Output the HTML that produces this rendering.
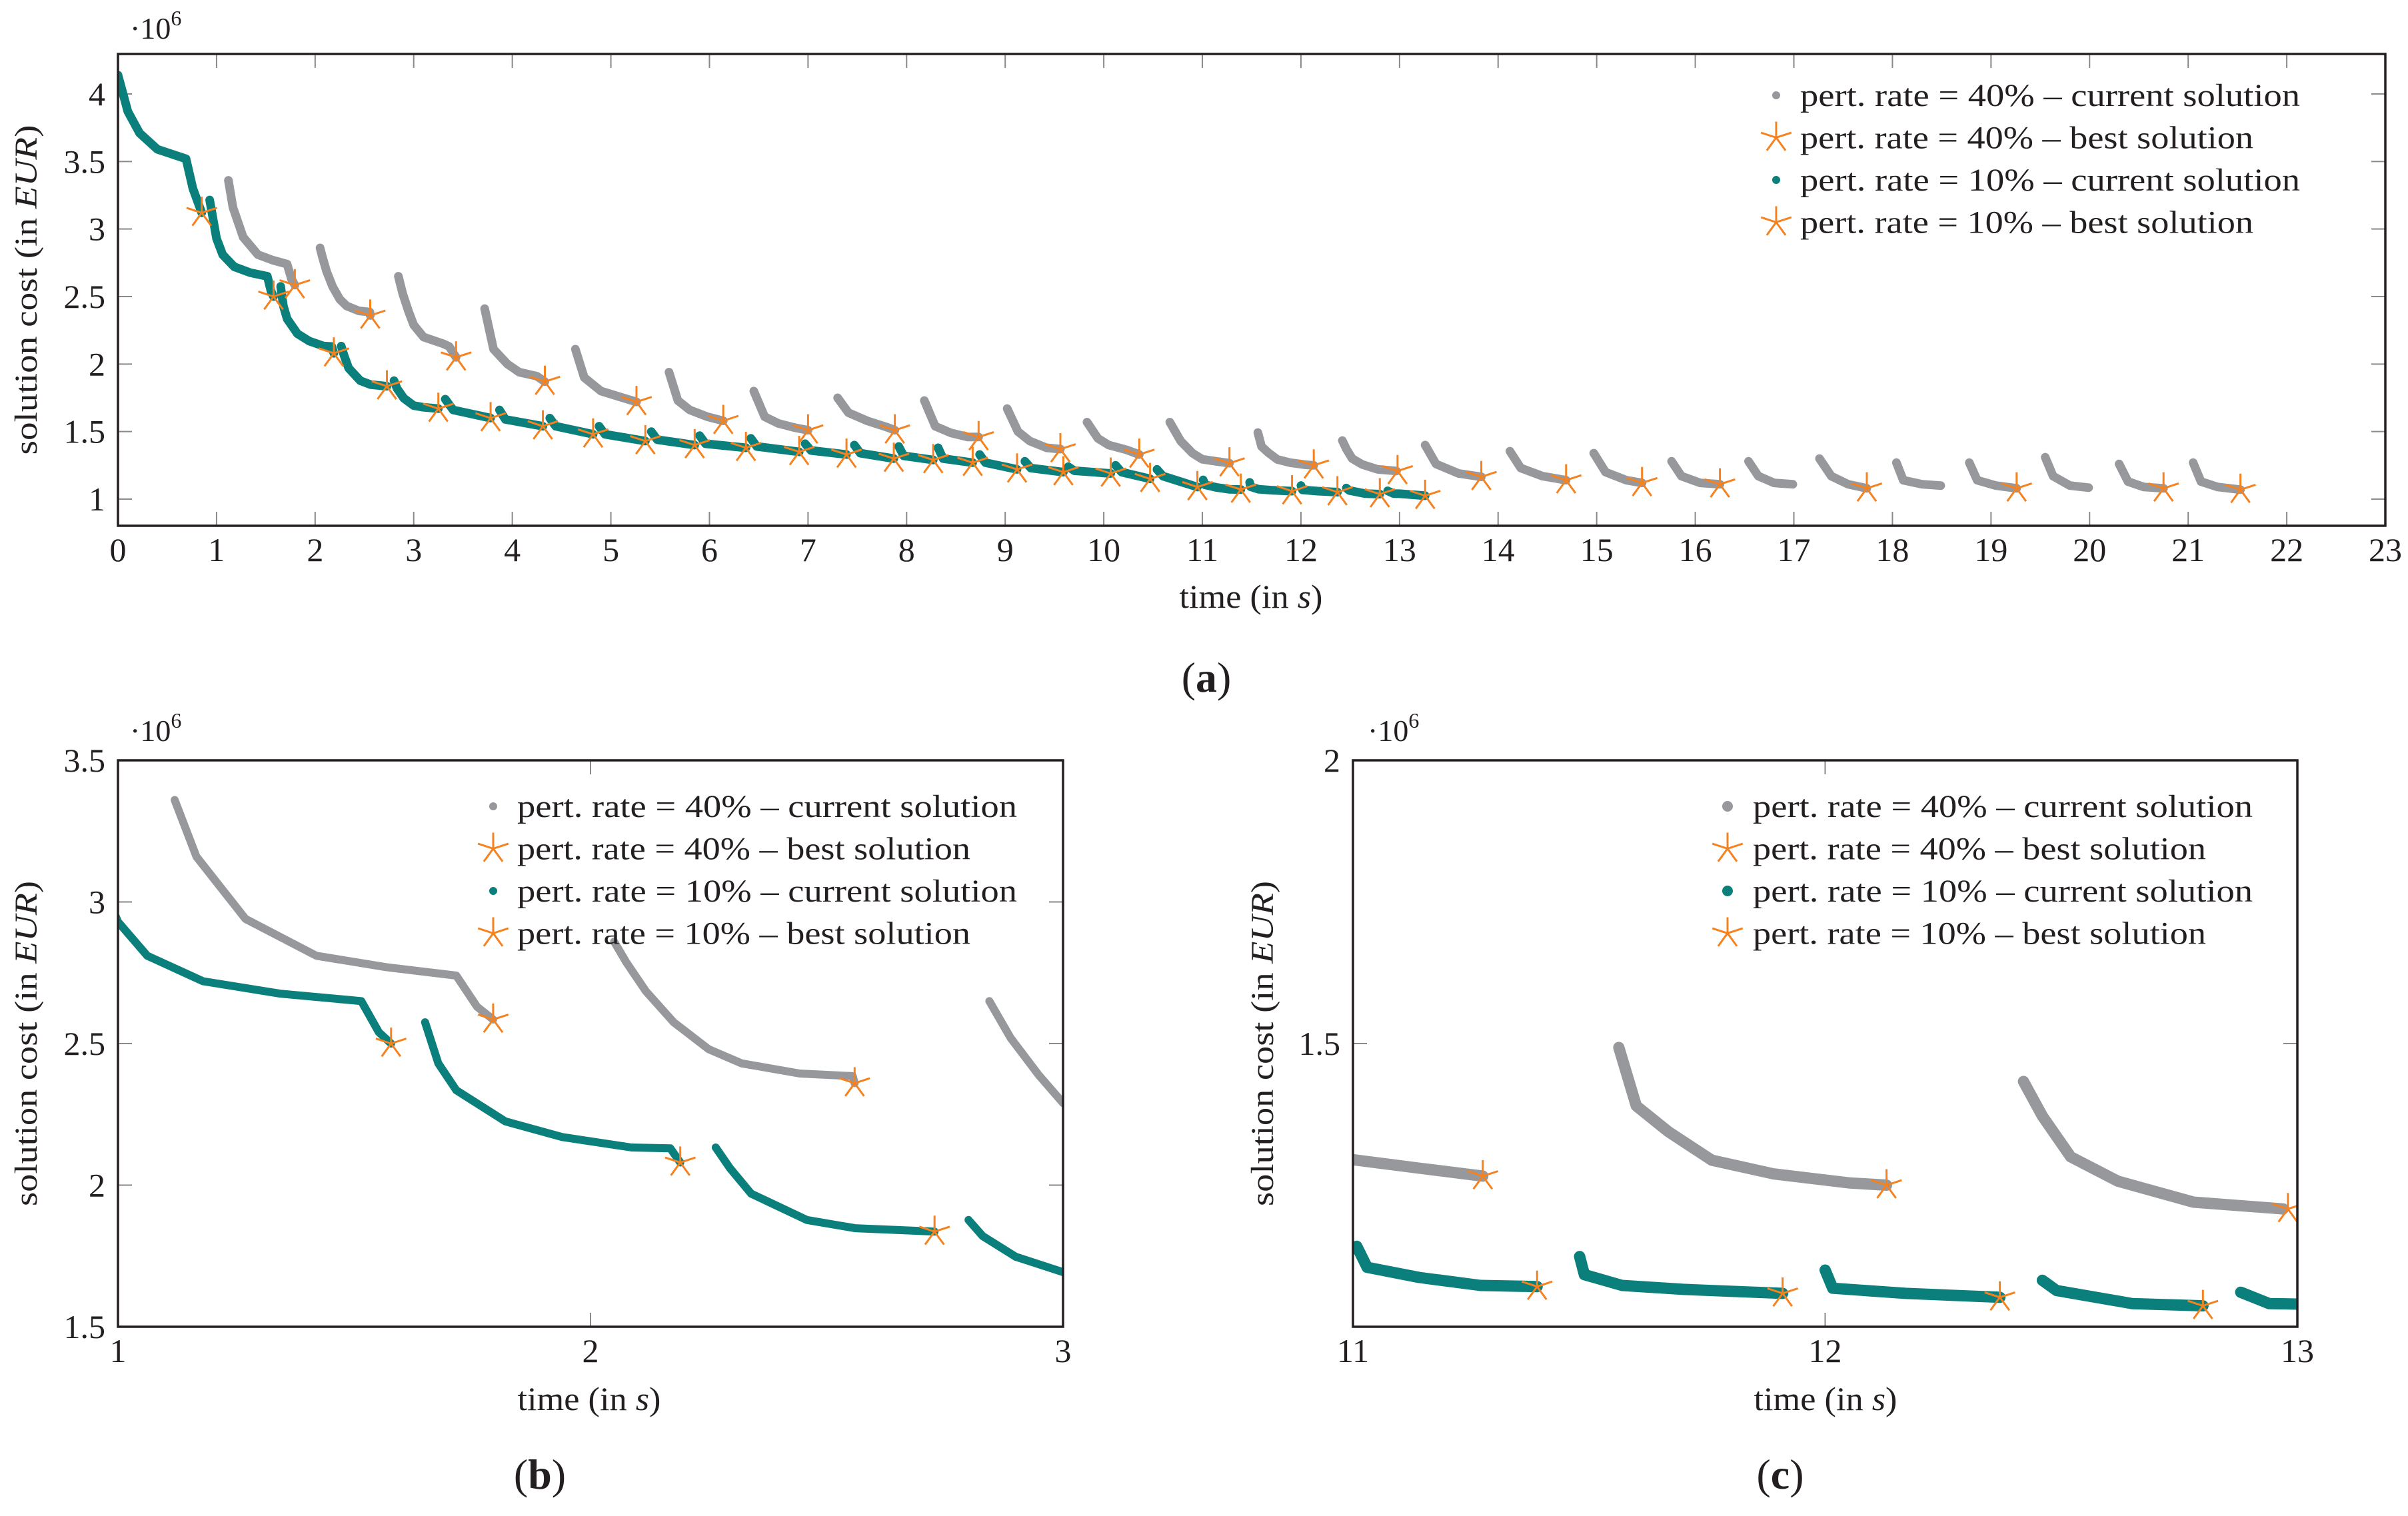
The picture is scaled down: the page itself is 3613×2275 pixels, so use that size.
<!DOCTYPE html>
<html><head><meta charset="utf-8"><style>
html,body{margin:0;padding:0;background:#fff}
svg{display:block}
text{font-family:"Liberation Serif",serif;fill:#231f20}
</style></head><body>
<svg id="fig" xmlns="http://www.w3.org/2000/svg" width="3613" height="2275" viewBox="0 0 3613 2275"></svg>
<script>
// ---- data (time in s, cost in 1e6 EUR) ----
const gray40Segments = [
 [[1.12,3.36],[1.166,3.16],[1.27,2.94],[1.42,2.81],[1.567,2.77],[1.716,2.74],[1.76,2.63],[1.794,2.585]],
 [[2.05,2.86],[2.076,2.786],[2.117,2.685],[2.176,2.575],[2.25,2.48],[2.32,2.43],[2.443,2.394],[2.555,2.385],[2.559,2.36]],
 [[2.844,2.65],[2.889,2.52],[2.948,2.39],[3.0,2.29],[3.1,2.2],[3.3,2.15],[3.36,2.13],[3.43,2.05]],
 [[3.72,2.41],[3.81,2.11],[3.95,2.0],[4.07,1.94],[4.25,1.91],[4.33,1.87]],
 [[4.64,2.11],[4.73,1.90],[4.9,1.8],[5.10,1.755],[5.26,1.72]],
 [[5.59,1.94],[5.68,1.73],[5.8,1.66],[5.98,1.61],[6.14,1.58]],
 [[6.45,1.80],[6.56,1.61],[6.7,1.56],[6.86,1.53],[7.00,1.51]],
 [[7.30,1.75],[7.41,1.64],[7.6,1.58],[7.81,1.53],[7.88,1.51]],
 [[8.18,1.73],[8.29,1.54],[8.45,1.49],[8.62,1.46],[8.73,1.46]],
 [[9.02,1.67],[9.13,1.50],[9.25,1.43],[9.42,1.38],[9.56,1.37]],
 [[9.83,1.57],[9.94,1.45],[10.05,1.40],[10.23,1.365],[10.36,1.33]],
 [[10.67,1.57],[10.78,1.43],[10.9,1.34],[11.0,1.295],[11.14,1.28],[11.275,1.266]],
 [[11.563,1.493],[11.60,1.39],[11.667,1.345],[11.76,1.294],[11.89,1.27],[12.05,1.254],[12.13,1.25]],
 [[12.42,1.433],[12.46,1.372],[12.52,1.30],[12.62,1.257],[12.78,1.22],[12.97,1.208]],
 [[13.26,1.40],[13.37,1.26],[13.6,1.19],[13.83,1.165]],
 [[14.12,1.355],[14.23,1.23],[14.45,1.17],[14.69,1.14]],
 [[14.97,1.34],[15.09,1.20],[15.3,1.14],[15.46,1.12]],
 [[15.76,1.28],[15.86,1.17],[16.05,1.12],[16.25,1.11]],
 [[16.54,1.28],[16.64,1.17],[16.8,1.12],[16.99,1.11]],
 [[17.26,1.30],[17.38,1.17],[17.55,1.11],[17.74,1.08]],
 [[18.04,1.27],[18.11,1.14],[18.3,1.11],[18.49,1.10]],
 [[18.78,1.27],[18.86,1.14],[19.05,1.10],[19.26,1.08]],
 [[19.55,1.31],[19.63,1.17],[19.8,1.10],[19.99,1.085]],
 [[20.30,1.26],[20.39,1.13],[20.55,1.09],[20.75,1.08]],
 [[21.05,1.27],[21.13,1.13],[21.3,1.09],[21.53,1.07]]
];
const teal10Segments = [
 [[0,4.14],[0.10,3.87],[0.22,3.71],[0.40,3.59],[0.69,3.52],[0.76,3.30],[0.85,3.12]],
 [[0.93,3.215],[1.0,2.93],[1.062,2.81],[1.18,2.72],[1.344,2.676],[1.515,2.65],[1.552,2.54],[1.578,2.50]],
 [[1.650,2.575],[1.678,2.43],[1.716,2.335],[1.82,2.225],[1.94,2.17],[2.087,2.133],[2.169,2.13],[2.19,2.08]],
 [[2.265,2.133],[2.295,2.06],[2.34,1.97],[2.458,1.877],[2.56,1.848],[2.728,1.836]],
 [[2.80,1.877],[2.83,1.82],[2.90,1.747],[3.0,1.693],[3.1,1.68],[3.25,1.67]],
 [[3.32,1.74],[3.40,1.66],[3.78,1.60]],
 [[3.87,1.66],[3.93,1.59],[4.31,1.54]],
 [[4.38,1.60],[4.44,1.54],[4.82,1.48]],
 [[4.88,1.54],[4.94,1.48],[5.35,1.43]],
 [[5.41,1.50],[5.47,1.44],[5.85,1.40]],
 [[5.90,1.47],[5.96,1.41],[6.37,1.38]],
 [[6.42,1.45],[6.48,1.39],[6.91,1.35]],
 [[6.97,1.41],[7.03,1.36],[7.39,1.33]],
 [[7.47,1.40],[7.53,1.34],[7.87,1.30]],
 [[7.92,1.39],[7.97,1.32],[8.27,1.29]],
 [[8.32,1.38],[8.37,1.30],[8.67,1.27]],
 [[8.74,1.33],[8.80,1.27],[9.12,1.22]],
 [[9.20,1.28],[9.26,1.23],[9.59,1.20]],
 [[9.64,1.24],[9.70,1.21],[10.07,1.19]],
 [[10.12,1.25],[10.18,1.20],[10.47,1.15]],
 [[10.54,1.22],[10.60,1.17],[10.95,1.09]],
 [[11.008,1.142],[11.03,1.105],[11.14,1.087],[11.27,1.073],[11.39,1.071]],
 [[11.48,1.124],[11.49,1.092],[11.57,1.073],[11.70,1.066],[11.91,1.059]],
 [[12.0,1.10],[12.016,1.068],[12.17,1.059],[12.37,1.052]],
 [[12.46,1.082],[12.49,1.064],[12.65,1.041],[12.80,1.037]],
 [[12.88,1.061],[12.94,1.041],[13.0,1.04],[13.26,1.025]]
];
const best40 = [[1.794,2.585],[2.559,2.36],[3.43,2.05],[4.33,1.87],[5.26,1.72],[6.14,1.58],[7.00,1.51],[7.88,1.51],[8.73,1.46],[9.56,1.37],[10.36,1.33],[11.275,1.266],[12.13,1.25],[12.98,1.208],[13.83,1.165],[14.69,1.14],[15.46,1.12],[16.25,1.11],[17.74,1.08],[19.26,1.08],[20.75,1.08],[21.53,1.07]];
const best10 = [[0.85,3.12],[1.578,2.50],[2.19,2.08],[2.728,1.836],[3.25,1.67],[3.78,1.60],[4.31,1.54],[4.82,1.48],[5.35,1.43],[5.85,1.40],[6.37,1.38],[6.91,1.35],[7.39,1.33],[7.87,1.30],[8.27,1.29],[8.67,1.27],[9.12,1.22],[9.59,1.20],[10.07,1.19],[10.47,1.15],[10.95,1.09],[11.39,1.071],[11.91,1.059],[12.37,1.052],[12.80,1.037],[13.26,1.025]];
const legendLabels = ["pert. rate = 40% \u2013 current solution","pert. rate = 40% \u2013 best solution","pert. rate = 10% \u2013 current solution","pert. rate = 10% \u2013 best solution"];
const xTicksA = [0,1,2,3,4,5,6,7,8,9,10,11,12,13,14,15,16,17,18,19,20,21,22,23];
const yTicksA = [1,1.5,2,2.5,3,3.5,4];
const yTickLabelsA = ["1","1.5","2","2.5","3","3.5","4"];
const xTicksB = [1,2,3];
const yTicksB = [1.5,2,2.5,3,3.5];
const yTickLabelsB = ["1.5","2","2.5","3","3.5"];
const xTicksC = [11,12,13];
const yTicksC = [1.5,2];
const yTickLabelsC = ["1.5","2"];

const NS="http://www.w3.org/2000/svg";
const svg=document.getElementById('fig');
const GRAY="#97989c", TEAL="#0b7f7b", ORANGE="#f5821f", INK="#231f20";
function mk(tag,attrs,parent){const e=document.createElementNS(NS,tag);for(const k in attrs)e.setAttribute(k,attrs[k]);(parent||svg).appendChild(e);return e;}
function lin(d0,d1,r0,r1){return v=>r0+(v-d0)*(r1-r0)/(d1-d0);}
function starPath(cx,cy,r){let d="";for(let k=0;k<5;k++){const a=(90+72*k)*Math.PI/180;d+=`M${cx.toFixed(1)},${cy.toFixed(1)}L${(cx+r*Math.cos(a)).toFixed(1)},${(cy-r*Math.sin(a)).toFixed(1)}`;}return d;}

function panel(cfg){
  const g=mk('g',{});
  
  
  const X=lin(cfg.xd[0],cfg.xd[1],cfg.x0,cfg.x1), Y=lin(cfg.yd[0],cfg.yd[1],cfg.yr[0],cfg.yr[1]);
  const fb=cfg.fy0, ft=cfg.fy1;
  const cid='clip-'+cfg.name;
  const cp=mk('clipPath',{id:cid},g);
  mk('rect',{x:cfg.x0,y:ft,width:cfg.x1-cfg.x0,height:fb-ft},cp);
  cfg.xt.forEach(t=>{
    const x=X(t);
    const tk=mk('path',{d:`M${x},${fb}v-21M${x},${ft}v21`,stroke:"#8a8a8a","stroke-width":2},g);
    
    
    const tl=mk('text',{x:x,y:fb+53,'font-size':50,'text-anchor':'middle'},g);
    tl.textContent=String(t);
    
    
  });
  cfg.yt.forEach((v,i)=>{
    const y=Y(v);
    const tk=mk('path',{d:`M${cfg.x0},${y}h21M${cfg.x1},${y}h-21`,stroke:"#8a8a8a","stroke-width":2},g);
    
    
    const tl=mk('text',{x:cfg.x0-19,y:y+17,'font-size':50,'text-anchor':'end'},g);
    tl.textContent=cfg.ytl[i];
    
    
  });
  const sg=mk('g',{'clip-path':`url(#${cid})`},g);
  gray40Segments.forEach(seg=>{
    const p=mk('polyline',{points:seg.map(q=>X(q[0]).toFixed(1)+','+Y(q[1]).toFixed(1)).join(' '),fill:'none',stroke:GRAY,'stroke-width':cfg.sw,'stroke-linecap':'round','stroke-linejoin':'round'},sg);
    
    
  });
  teal10Segments.forEach(seg=>{
    const p=mk('polyline',{points:seg.map(q=>X(q[0]).toFixed(1)+','+Y(q[1]).toFixed(1)).join(' '),fill:'none',stroke:TEAL,'stroke-width':cfg.sw,'stroke-linecap':'round','stroke-linejoin':'round'},sg);
    
    
  });
  best40.forEach(q=>{
    const s=mk('path',{d:starPath(X(q[0]),Y(q[1]),24),stroke:ORANGE,'stroke-width':3,fill:'none'},sg);
    
    
  });
  best10.forEach(q=>{
    const s=mk('path',{d:starPath(X(q[0]),Y(q[1]),24),stroke:ORANGE,'stroke-width':3,fill:'none'},sg);
    
    
  });
  const fr=mk('rect',{x:cfg.x0,y:ft,width:cfg.x1-cfg.x0,height:fb-ft,fill:'none',stroke:INK,'stroke-width':3.5},g);
  
  
  const lg=mk('g',{},g);
  
  
  legendLabels.forEach((lab,i)=>{
    const cy=cfg.legY+i*63.5;
    if(i%2===0){
      const d=mk('circle',{cx:cfg.legMx,cy:cy,r:cfg.legR,fill:i===0?GRAY:TEAL},lg);
      
      
    } else {
      const s=mk('path',{d:starPath(cfg.legMx,cy,24),stroke:ORANGE,'stroke-width':3,fill:'none'},lg);
      
      
    }
    const t=mk('text',{x:cfg.legTx,y:cy+16,'font-size':48,textLength:(i%2===0?750:680),lengthAdjust:'spacingAndGlyphs'},lg);
    t.textContent=lab;
    
    
  });
  const ex=mk('text',{x:cfg.expX,y:cfg.expY,'font-size':46},g);
  ex.innerHTML='\u00b710<tspan dy="-20" font-size="32">6</tspan>';
  
  
  const yl=mk('text',{x:0,y:0,'font-size':48,'text-anchor':'middle',textLength:cfg.ylLen,lengthAdjust:'spacingAndGlyphs',transform:`translate(${cfg.ylX},${(fb+ft)/2}) rotate(-90)`},g);
  yl.innerHTML='solution cost (in <tspan font-style="italic">EUR</tspan>)';
  
  
  const xl=mk('text',{x:cfg.xlX,y:cfg.xlY,'font-size':50,'text-anchor':'middle',textLength:215,lengthAdjust:'spacingAndGlyphs'},g);
  xl.innerHTML='time (in <tspan font-style="italic">s</tspan>)';
  
  
  const cap=mk('text',{x:cfg.capX,y:cfg.capY,'font-size':64,'text-anchor':'middle'},g);
  cap.innerHTML='(<tspan font-weight="bold">'+cfg.cap+'</tspan>)';
  
  
}

panel({name:'panel-a',xd:[0,23],yd:[1,4],x0:177,x1:3579,yr:[749,141],fy0:789,fy1:81,
  xt:xTicksA,yt:yTicksA,ytl:yTickLabelsA,sw:13,
  legY:143,legMx:2665,legTx:2701,legR:6,expX:195,expY:58,ylX:55,ylLen:495,
  xlX:1877,xlY:912,capX:1810,capY:1038,cap:'a'});
panel({name:'panel-b',xd:[1,3],yd:[1.5,3.5],x0:177,x1:1595,yr:[1991,1141],fy0:1991,fy1:1141,
  xt:xTicksB,yt:yTicksB,ytl:yTickLabelsB,sw:12,
  legY:1210,legMx:740,legTx:776,legR:6,expX:195,expY:1112,ylX:55,ylLen:488,
  xlX:884,xlY:2116,capX:810,capY:2234,cap:'b'});
panel({name:'panel-c',xd:[11,13],yd:[1,2],x0:2030,x1:3447,yr:[1991,1141],fy0:1991,fy1:1141,
  xt:xTicksC,yt:yTicksC,ytl:yTickLabelsC,sw:17,
  legY:1210,legMx:2592,legTx:2630,legR:8,expX:2052,expY:1112,ylX:1910,ylLen:488,
  xlX:2739,xlY:2116,capX:2671,capY:2234,cap:'c'});
</script>
</body></html>
